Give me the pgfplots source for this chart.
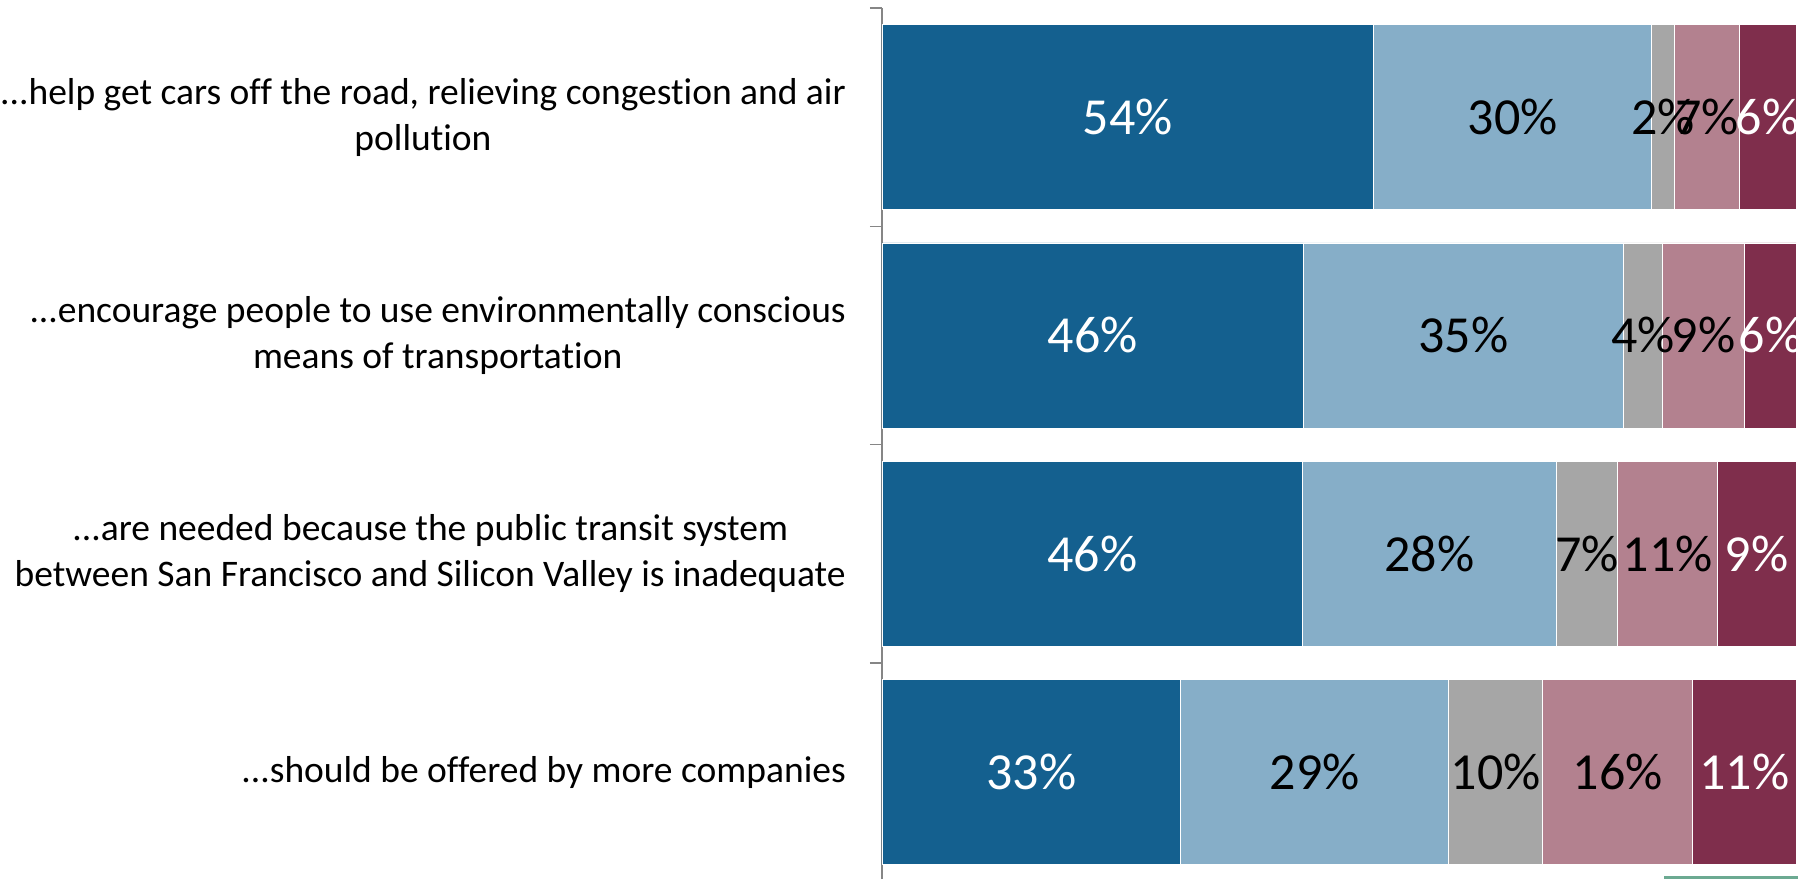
\documentclass[border=0pt]{standalone}
\usepackage{pgfplots}
\pgfplotsset{compat=1.18}
\usepackage{pgfplotstable}
\usepackage{fontspec}
\setmainfont{Carlito}[Ligatures={NoCommon}]
\definecolor{cA}{RGB}{20,96,143}
\definecolor{cB}{RGB}{134,174,200}
\definecolor{cC}{RGB}{166,166,166}
\definecolor{cD}{RGB}{179,129,143}
\definecolor{cE}{RGB}{127,46,76}
\definecolor{axisgray}{RGB}{134,134,134}
\definecolor{greenline}{RGB}{108,170,146}
\newcommand{\ddd}{...}

% rows: 4 = top (help get cars...), 1 = bottom (offered by more companies)
\pgfplotstableread{
y w lab
4 53.8 54
3 46.1 46
2 46.0 46
1 32.7 33
}\tA
\pgfplotstableread{
y w lab
4 30.4 30
3 35.0 35
2 27.8 28
1 29.3 29
}\tB
\pgfplotstableread{
y w lab
4 2.5 2
3 4.3 4
2 6.7 7
1 10.3 10
}\tC
\pgfplotstableread{
y w lab
4 7.1 7
3 9.0 9
2 10.9 11
1 16.4 16
}\tD
\pgfplotstableread{
y w lab
4 6.2 6
3 5.6 6
2 8.6 9
1 11.3 11
}\tE

\begin{document}
\begin{tikzpicture}
\useasboundingbox (0,0) rectangle (1799pt,879pt);
\begin{axis}[
  at={(882pt,871pt)}, anchor=north west,
  x=9.14pt, y=218.3pt,
  xmin=0, xmax=100, ymin=0.51, ymax=4.5,
  xbar stacked, bar width=185pt,
  hide x axis,
  axis y line*=left,
  y axis line style={draw=axisgray, line width=1.5pt, -},
  ytick={1,2,3,4},
  yticklabels={
    {\ddd should be offered by more companies},
    {\ddd are needed because the public transit system\\between San Francisco and Silicon Valley is inadequate},
    {\ddd encourage people to use environmentally conscious\\means of transportation},
    {\ddd help get cars off the road, relieving congestion and air\\pollution}},
  minor ytick={1.5,2.5,3.5,4.5},
  major tick length=0pt, minor tick length=12pt, tick align=outside,
  ytick style={draw=axisgray, line width=1.5pt},
  yticklabel style={font=\fontsize{37.5}{46}\selectfont, align=center, anchor=east, inner sep=0pt, xshift=-36pt, text=black},
  /pgf/number format/assume math mode=true,
  nodes near coords={\pgfmathprintnumber{\pgfplotspointmeta}\%},
  point meta=explicit,
  every node near coord/.append style={anchor=center, font=\fontsize{52}{62}\selectfont},
  clip=false,
]
\addplot[fill=cA, draw=white, line width=0.8pt, every node near coord/.append style={text=white}] table[x=w, y=y, meta=lab] {\tA};
\addplot[fill=cB, draw=white, line width=0.8pt, every node near coord/.append style={text=black}] table[x=w, y=y, meta=lab] {\tB};
\addplot[fill=cC, draw=white, line width=0.8pt, every node near coord/.append style={text=black}] table[x=w, y=y, meta=lab] {\tC};
\addplot[fill=cD, draw=white, line width=0.8pt, every node near coord/.append style={text=black}] table[x=w, y=y, meta=lab] {\tD};
\addplot[fill=cE, draw=white, line width=0.8pt, every node near coord/.append style={text=white}] table[x=w, y=y, meta=lab] {\tE};
\end{axis}
\fill[greenline] (1664pt,0pt) rectangle (1798pt,3pt);
\end{tikzpicture}
\end{document}
